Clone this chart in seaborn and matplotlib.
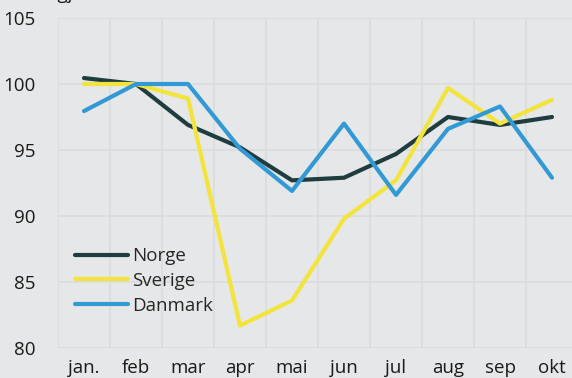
import matplotlib
matplotlib.use("Agg")
import matplotlib.pyplot as plt
from matplotlib.ticker import FixedLocator, NullFormatter
import numpy as np
import pandas as pd
import seaborn as sns

months = ["jan.", "feb", "mar", "apr", "mai", "jun", "jul", "aug", "sep", "okt"]
norge = [100.45, 100.0, 96.9, 95.2, 92.7, 92.9, 94.7, 97.5, 96.9, 97.5]
sverige = [100.0, 100.0, 98.9, 81.7, 83.6, 89.8, 92.7, 99.7, 97.0, 98.8]
danmark = [97.95, 100.0, 100.0, 95.1, 91.9, 97.0, 91.6, 96.6, 98.3, 92.9]
countries = ["Norge", "Sverige", "Danmark"]
colors = ["#1f3c3e", "#f2e43c", "#3399d4"]
yticks = [80, 85, 90, 95, 100, 105]

bg = "#e6e7e8"
grid = "#dadbdd"

sns.set_theme(style="white", rc={
    "axes.facecolor": bg,
    "figure.facecolor": bg,
})
plt.rcParams["font.family"] = ["Open Sans", "DejaVu Sans"]

df = pd.DataFrame({
    "x": np.tile(np.arange(len(months)), 3),
    "verdi": norge + sverige + danmark,
    "land": np.repeat(countries, len(months)),
})

fig = plt.figure(figsize=(5.72, 3.78), dpi=100)
ax = fig.add_axes([58 / 572, 30 / 378, 520 / 572, 330 / 378])

sns.lineplot(data=df, x="x", y="verdi", hue="land", hue_order=countries,
             palette=colors, linewidth=3, sort=False, ax=ax)

ax.set_xlim(-0.5, 9.5)
ax.set_ylim(80, 105)
ax.set_xlabel("")
ax.set_ylabel("")
for s in ax.spines.values():
    s.set_visible(False)

# vertical grid between months, horizontal grid at y ticks
ax.xaxis.set_minor_locator(FixedLocator(np.arange(-0.5, 10.0, 1.0)))
ax.xaxis.set_minor_formatter(NullFormatter())
ax.set_xticks(np.arange(len(months)))
ax.set_xticklabels(months)
ax.set_yticks(yticks)
ax.grid(False)
ax.grid(True, which="minor", axis="x", color=grid, linewidth=1.2)
ax.grid(True, which="major", axis="y", color=grid, linewidth=1.2)
ax.tick_params(axis="both", which="both", length=0, labelsize=13.5,
               labelcolor="#1a1a1a")
ax.tick_params(axis="y", pad=16)
ax.tick_params(axis="x", pad=8)
ax.set_axisbelow(True)

leg = ax.legend(loc="lower left", bbox_to_anchor=(0.0, 0.05), frameon=False,
                fontsize=13.5, handlelength=2.85, handletextpad=0.2,
                labelspacing=0.36, borderaxespad=0.5)
for line in leg.get_lines():
    line.set_linewidth(3)

fig.text(5 / 572, 1.003, "Sesongjustert indeks", fontsize=13.5,
         ha="left", va="baseline", color="#1a1a1a")

fig.savefig("out.png", dpi=100, facecolor=bg)
